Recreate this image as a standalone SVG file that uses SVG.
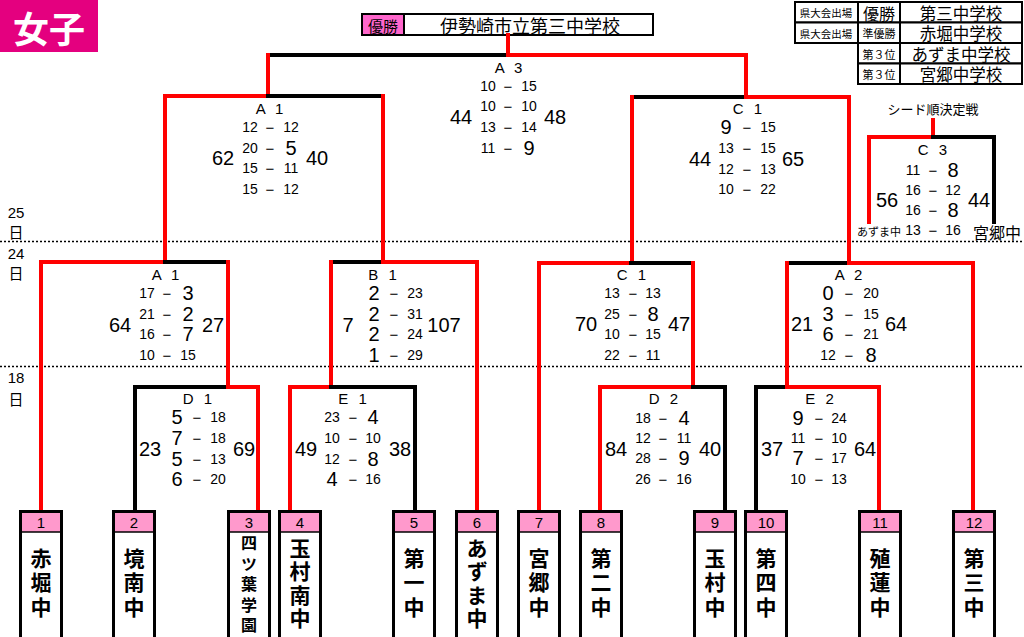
<svg xmlns="http://www.w3.org/2000/svg" xmlns:xlink="http://www.w3.org/1999/xlink" width="1024" height="637" viewBox="0 0 1024 637">
<style>
.r{stroke:#ff0000;stroke-width:4;stroke-linecap:square;fill:none}
.k{stroke:#000;stroke-width:4;stroke-linecap:square;fill:none}
.dot{stroke:#000;stroke-width:1.5;stroke-dasharray:2 2}
text{fill:#000}
.s{font-family:"Liberation Sans Narrow","Liberation Sans",sans-serif;font-size:14px;text-anchor:middle;dominant-baseline:central}
.b{font-size:20px}
.d{font-size:15px}
.tot{font-family:"Liberation Sans Narrow","Liberation Sans",sans-serif;font-size:20px;text-anchor:middle;dominant-baseline:central}
.lbl{font-family:"Liberation Sans",sans-serif;font-size:15px;text-anchor:middle;dominant-baseline:central;letter-spacing:3px}
.jp{font-family:"Noto Sans CJK JP",sans-serif;text-anchor:middle;dominant-baseline:central}
.nm{font-family:"Noto Sans CJK JP",sans-serif;font-weight:bold;font-size:21px;writing-mode:vertical-rl;text-anchor:start;dominant-baseline:central}
.n3{letter-spacing:3.5px}
.n4{letter-spacing:2.3px}
.n5{font-size:16px;letter-spacing:4.5px}
.num{font-family:"Liberation Sans Narrow","Liberation Sans",sans-serif;font-size:15px;text-anchor:middle;dominant-baseline:central}
.cell{fill:#fff;stroke:#000;stroke-width:2}
</style>
<defs>
<g id="frame">
<rect x="1.5" y="511.5" width="41" height="130" fill="#fff" stroke="#000" stroke-width="3"/>
<rect x="3" y="513" width="38" height="19" fill="#ff99cc"/>
<line x1="3" y1="532" x2="41" y2="532" stroke="#000" stroke-width="1.5"/>
</g>
</defs>
<rect width="1024" height="637" fill="#fff"/>

<g id="title">
<rect x="0" y="0" width="98" height="52" fill="#e4007f"/>
<text x="49" y="27" class="jp" font-size="36" font-weight="bold" style="fill:#fff">女子</text>
</g>

<g id="champion">
<rect x="362" y="14" width="42" height="21" fill="#ff66cc" stroke="#000" stroke-width="2"/>
<rect x="404" y="14" width="249" height="21" fill="#fff" stroke="#000" stroke-width="2"/>
<text x="383" y="25" class="jp" font-size="15">優勝</text>
<text x="530" y="25" class="jp" font-size="18">伊勢崎市立第三中学校</text>
</g>

<g id="legend">
<rect class="cell" x="795" y="2" width="63" height="20.5"/>
<rect class="cell" x="858" y="2" width="42" height="20.5"/>
<rect class="cell" x="900" y="2" width="122" height="20.5"/>
<rect class="cell" x="795" y="22.5" width="63" height="20.5"/>
<rect class="cell" x="858" y="22.5" width="42" height="20.5"/>
<rect class="cell" x="900" y="22.5" width="122" height="20.5"/>
<rect class="cell" x="858" y="43" width="42" height="20.5"/>
<rect class="cell" x="900" y="43" width="122" height="20.5"/>
<rect class="cell" x="858" y="63.5" width="42" height="20.5"/>
<rect class="cell" x="900" y="63.5" width="122" height="20.5"/>
<text x="826" y="12.5" class="jp" font-size="10.5">県大会出場</text>
<text x="826" y="33" class="jp" font-size="10.5">県大会出場</text>
<text x="879" y="12.5" class="jp" font-size="16">優勝</text>
<text x="879" y="33" class="jp" font-size="11">準優勝</text>
<text x="879" y="53.5" class="jp" font-size="11">第３位</text>
<text x="879" y="74" class="jp" font-size="11">第３位</text>
<text x="961" y="12.5" class="jp" font-size="16.5">第三中学校</text>
<text x="961" y="33" class="jp" font-size="16.5">赤堀中学校</text>
<text x="961" y="53.5" class="jp" font-size="16.5">あずま中学校</text>
<text x="961" y="74" class="jp" font-size="16.5">宮郷中学校</text>
</g>

<g id="days">
<line class="dot" x1="0" y1="241.5" x2="1024" y2="241.5"/>
<line class="dot" x1="0" y1="366.5" x2="1024" y2="366.5"/>
<text x="16" y="212" class="num" font-size="16">25</text>
<text x="16" y="231" class="jp" font-size="15">日</text>
<text x="16" y="253" class="num" font-size="16">24</text>
<text x="16" y="272" class="jp" font-size="15">日</text>
<text x="16" y="377" class="num" font-size="16">18</text>
<text x="16" y="398" class="jp" font-size="15">日</text>
</g>

<g id="connectors">
<line class="r" x1="508" y1="35" x2="508" y2="55"/>
<line class="k" x1="268" y1="55" x2="508" y2="55"/>
<line class="r" x1="508" y1="55" x2="746" y2="55"/>
<line class="r" x1="268" y1="55" x2="268" y2="96"/>
<line class="r" x1="746" y1="55" x2="746" y2="97"/>
<line class="r" x1="165" y1="96" x2="268" y2="96"/>
<line class="k" x1="268" y1="96" x2="383" y2="96"/>
<line class="r" x1="165" y1="96" x2="165" y2="262"/>
<line class="r" x1="383" y1="96" x2="383" y2="262"/>
<line class="k" x1="632" y1="97" x2="746" y2="97"/>
<line class="r" x1="746" y1="97" x2="849" y2="97"/>
<line class="r" x1="632" y1="97" x2="632" y2="263"/>
<line class="r" x1="849" y1="97" x2="849" y2="263"/>
<line class="r" x1="41" y1="262" x2="165" y2="262"/>
<line class="k" x1="165" y1="262" x2="228" y2="262"/>
<line class="r" x1="41" y1="262" x2="41" y2="510"/>
<line class="r" x1="228" y1="262" x2="228" y2="387"/>
<line class="k" x1="331" y1="262" x2="383" y2="262"/>
<line class="r" x1="383" y1="262" x2="477" y2="262"/>
<line class="r" x1="331" y1="262" x2="331" y2="387"/>
<line class="r" x1="477" y1="262" x2="477" y2="510"/>
<line class="r" x1="539" y1="263" x2="631" y2="263"/>
<line class="k" x1="631" y1="263" x2="693" y2="263"/>
<line class="r" x1="539" y1="263" x2="539" y2="510"/>
<line class="r" x1="693" y1="263" x2="693" y2="387"/>
<line class="k" x1="787" y1="263" x2="849" y2="263"/>
<line class="r" x1="849" y1="263" x2="973" y2="263"/>
<line class="r" x1="787" y1="263" x2="787" y2="387"/>
<line class="r" x1="973" y1="263" x2="973" y2="510"/>
<line class="k" x1="135" y1="387" x2="228" y2="387"/>
<line class="r" x1="228" y1="387" x2="258" y2="387"/>
<line class="k" x1="135" y1="387" x2="135" y2="510"/>
<line class="r" x1="258" y1="387" x2="258" y2="510"/>
<line class="r" x1="290" y1="387" x2="331" y2="387"/>
<line class="k" x1="331" y1="387" x2="415" y2="387"/>
<line class="r" x1="290" y1="387" x2="290" y2="510"/>
<line class="k" x1="415" y1="387" x2="415" y2="510"/>
<line class="r" x1="600" y1="387" x2="693" y2="387"/>
<line class="k" x1="693" y1="387" x2="725" y2="387"/>
<line class="r" x1="600" y1="387" x2="600" y2="510"/>
<line class="k" x1="725" y1="387" x2="725" y2="510"/>
<line class="k" x1="756" y1="387" x2="787" y2="387"/>
<line class="r" x1="787" y1="387" x2="879" y2="387"/>
<line class="k" x1="756" y1="387" x2="756" y2="510"/>
<line class="r" x1="879" y1="387" x2="879" y2="510"/>
<line class="r" x1="933" y1="120" x2="933" y2="137"/>
<line class="r" x1="869" y1="137" x2="933" y2="137"/>
<line class="k" x1="933" y1="137" x2="994" y2="137"/>
<line class="r" x1="869" y1="137" x2="869" y2="222"/>
<line class="k" x1="994" y1="137" x2="994" y2="222"/>
</g>

<g id="m-A3">
<text class="lbl" x="510" y="67">A 3</text>
<text class="s" x="488" y="86">10</text><text class="s d" x="508" y="86">−</text><text class="s" x="529" y="86">15</text>
<text class="s" x="488" y="106">10</text><text class="s d" x="508" y="106">−</text><text class="s" x="529" y="106">10</text>
<text class="s" x="488" y="127">13</text><text class="s d" x="508" y="127">−</text><text class="s" x="529" y="127">14</text>
<text class="s" x="488" y="148">11</text><text class="s d" x="508" y="148">−</text><text class="s b" x="529" y="148">9</text>
<text class="tot" x="461" y="117">44</text><text class="tot" x="555" y="117">48</text>
</g>

<g id="m-A1-top">
<text class="lbl" x="271" y="108">A 1</text>
<text class="s" x="250" y="127">12</text><text class="s d" x="270" y="127">−</text><text class="s" x="291" y="127">12</text>
<text class="s" x="250" y="148">20</text><text class="s d" x="270" y="148">−</text><text class="s b" x="291" y="148">5</text>
<text class="s" x="250" y="168">15</text><text class="s d" x="270" y="168">−</text><text class="s" x="291" y="168">11</text>
<text class="s" x="250" y="189">15</text><text class="s d" x="270" y="189">−</text><text class="s" x="291" y="189">12</text>
<text class="tot" x="223" y="158">62</text><text class="tot" x="317" y="158">40</text>
</g>

<g id="m-C1-top">
<text class="lbl" x="749" y="108">C 1</text>
<text class="s b" x="726" y="127">9</text><text class="s d" x="747" y="127">−</text><text class="s" x="768" y="127">15</text>
<text class="s" x="726" y="148">13</text><text class="s d" x="747" y="148">−</text><text class="s" x="768" y="148">15</text>
<text class="s" x="726" y="169">12</text><text class="s d" x="747" y="169">−</text><text class="s" x="768" y="169">13</text>
<text class="s" x="726" y="189">10</text><text class="s d" x="747" y="189">−</text><text class="s" x="768" y="189">22</text>
<text class="tot" x="700" y="159">44</text><text class="tot" x="793" y="159">65</text>
</g>

<g id="m-C3">
<text class="jp" x="933" y="108" font-size="13">シード順決定戦</text>
<text class="lbl" x="934" y="149">C 3</text>
<text class="s" x="913" y="170">11</text><text class="s d" x="933" y="170">−</text><text class="s b" x="953" y="170">8</text>
<text class="s" x="913" y="190">16</text><text class="s d" x="933" y="190">−</text><text class="s" x="953" y="190">12</text>
<text class="s" x="913" y="210">16</text><text class="s d" x="933" y="210">−</text><text class="s b" x="953" y="210">8</text>
<text class="s" x="913" y="230">13</text><text class="s d" x="933" y="230">−</text><text class="s" x="953" y="230">16</text>
<text class="tot" x="887" y="200">56</text><text class="tot" x="979" y="200">44</text>
<text class="jp" x="879" y="231" font-size="11">あずま中</text>
<text class="jp" x="997" y="232" font-size="16">宮郷中</text>
</g>

<g id="m-A1-mid">
<text class="lbl" x="167" y="274">A 1</text>
<text class="s" x="147" y="293">17</text><text class="s d" x="167" y="293">−</text><text class="s b" x="188" y="293">3</text>
<text class="s" x="147" y="314">21</text><text class="s d" x="167" y="314">−</text><text class="s b" x="188" y="314">2</text>
<text class="s" x="147" y="334">16</text><text class="s d" x="167" y="334">−</text><text class="s b" x="188" y="334">7</text>
<text class="s" x="147" y="355">10</text><text class="s d" x="167" y="355">−</text><text class="s" x="188" y="355">15</text>
<text class="tot" x="120" y="325">64</text><text class="tot" x="213" y="325">27</text>
</g>

<g id="m-B1">
<text class="lbl" x="384" y="274">B 1</text>
<text class="s b" x="374" y="293">2</text><text class="s d" x="394" y="293">−</text><text class="s" x="415" y="293">23</text>
<text class="s b" x="374" y="314">2</text><text class="s d" x="394" y="314">−</text><text class="s" x="415" y="314">31</text>
<text class="s b" x="374" y="334">2</text><text class="s d" x="394" y="334">−</text><text class="s" x="415" y="334">24</text>
<text class="s b" x="374" y="355">1</text><text class="s d" x="394" y="355">−</text><text class="s" x="415" y="355">29</text>
<text class="tot" x="348" y="325">7</text><text class="tot" x="444" y="325">107</text>
</g>

<g id="m-C1-mid">
<text class="lbl" x="633" y="274">C 1</text>
<text class="s" x="612" y="293">13</text><text class="s d" x="633" y="293">−</text><text class="s" x="653" y="293">13</text>
<text class="s" x="612" y="314">25</text><text class="s d" x="633" y="314">−</text><text class="s b" x="653" y="314">8</text>
<text class="s" x="612" y="334">10</text><text class="s d" x="633" y="334">−</text><text class="s" x="653" y="334">15</text>
<text class="s" x="612" y="355">22</text><text class="s d" x="633" y="355">−</text><text class="s" x="653" y="355">11</text>
<text class="tot" x="586" y="324">70</text><text class="tot" x="679" y="324">47</text>
</g>

<g id="m-A2">
<text class="lbl" x="850" y="274">A 2</text>
<text class="s b" x="828" y="293">0</text><text class="s d" x="849" y="293">−</text><text class="s" x="871" y="293">20</text>
<text class="s b" x="828" y="314">3</text><text class="s d" x="849" y="314">−</text><text class="s" x="871" y="314">15</text>
<text class="s b" x="828" y="334">6</text><text class="s d" x="849" y="334">−</text><text class="s" x="871" y="334">21</text>
<text class="s" x="828" y="355">12</text><text class="s d" x="849" y="355">−</text><text class="s b" x="871" y="355">8</text>
<text class="tot" x="802" y="324">21</text><text class="tot" x="896" y="324">64</text>
</g>

<g id="m-D1">
<text class="lbl" x="199" y="398">D 1</text>
<text class="s b" x="177" y="417">5</text><text class="s d" x="197" y="417">−</text><text class="s" x="218" y="417">18</text>
<text class="s b" x="177" y="438">7</text><text class="s d" x="197" y="438">−</text><text class="s" x="218" y="438">18</text>
<text class="s b" x="177" y="459">5</text><text class="s d" x="197" y="459">−</text><text class="s" x="218" y="459">13</text>
<text class="s b" x="177" y="479">6</text><text class="s d" x="197" y="479">−</text><text class="s" x="218" y="479">20</text>
<text class="tot" x="150" y="449">23</text><text class="tot" x="244" y="449">69</text>
</g>

<g id="m-E1">
<text class="lbl" x="354" y="398">E 1</text>
<text class="s" x="332" y="417">23</text><text class="s d" x="353" y="417">−</text><text class="s b" x="373" y="417">4</text>
<text class="s" x="332" y="438">10</text><text class="s d" x="353" y="438">−</text><text class="s" x="373" y="438">10</text>
<text class="s" x="332" y="459">12</text><text class="s d" x="353" y="459">−</text><text class="s b" x="373" y="459">8</text>
<text class="s b" x="332" y="479">4</text><text class="s d" x="353" y="479">−</text><text class="s" x="373" y="479">16</text>
<text class="tot" x="306" y="449">49</text><text class="tot" x="400" y="449">38</text>
</g>

<g id="m-D2">
<text class="lbl" x="665" y="398">D 2</text>
<text class="s" x="643" y="418">18</text><text class="s d" x="663" y="418">−</text><text class="s b" x="684" y="418">4</text>
<text class="s" x="643" y="438">12</text><text class="s d" x="663" y="438">−</text><text class="s" x="684" y="438">11</text>
<text class="s" x="643" y="458">28</text><text class="s d" x="663" y="458">−</text><text class="s b" x="684" y="458">9</text>
<text class="s" x="643" y="479">26</text><text class="s d" x="663" y="479">−</text><text class="s" x="684" y="479">16</text>
<text class="tot" x="616" y="449">84</text><text class="tot" x="710" y="449">40</text>
</g>

<g id="m-E2">
<text class="lbl" x="821" y="398">E 2</text>
<text class="s b" x="798" y="418">9</text><text class="s d" x="819" y="418">−</text><text class="s" x="839" y="418">24</text>
<text class="s" x="798" y="438">11</text><text class="s d" x="819" y="438">−</text><text class="s" x="839" y="438">10</text>
<text class="s b" x="798" y="458">7</text><text class="s d" x="819" y="458">−</text><text class="s" x="839" y="458">17</text>
<text class="s" x="798" y="479">10</text><text class="s d" x="819" y="479">−</text><text class="s" x="839" y="479">13</text>
<text class="tot" x="772" y="449">37</text><text class="tot" x="865" y="449">64</text>
</g>

<g id="team1"><use xlink:href="#frame" x="19"/><text class="num" x="41" y="522">1</text><text class="nm n3" x="41" y="547.5">赤堀中</text></g>
<g id="team2"><use xlink:href="#frame" x="112"/><text class="num" x="134" y="522">2</text><text class="nm n3" x="134" y="547.5">境南中</text></g>
<g id="team3"><use xlink:href="#frame" x="227"/><text class="num" x="249" y="522">3</text><text class="nm n5" x="249" y="535">四ツ葉学園</text></g>
<g id="team4"><use xlink:href="#frame" x="278"/><text class="num" x="300" y="522">4</text><text class="nm n4" x="300" y="537.5">玉村南中</text></g>
<g id="team5"><use xlink:href="#frame" x="392"/><text class="num" x="414" y="522">5</text><text class="nm n3" x="414" y="547.5">第一中</text></g>
<g id="team6"><use xlink:href="#frame" x="455"/><text class="num" x="477" y="522">6</text><text class="nm n4" x="477" y="537.5">あずま中</text></g>
<g id="team7"><use xlink:href="#frame" x="517"/><text class="num" x="539" y="522">7</text><text class="nm n3" x="539" y="547.5">宮郷中</text></g>
<g id="team8"><use xlink:href="#frame" x="579"/><text class="num" x="601" y="522">8</text><text class="nm n3" x="601" y="547.5">第二中</text></g>
<g id="team9"><use xlink:href="#frame" x="693"/><text class="num" x="715" y="522">9</text><text class="nm n3" x="715" y="547.5">玉村中</text></g>
<g id="team10"><use xlink:href="#frame" x="744"/><text class="num" x="766" y="522">10</text><text class="nm n3" x="766" y="547.5">第四中</text></g>
<g id="team11"><use xlink:href="#frame" x="858"/><text class="num" x="880" y="522">11</text><text class="nm n3" x="880" y="547.5">殖蓮中</text></g>
<g id="team12"><use xlink:href="#frame" x="952"/><text class="num" x="974" y="522">12</text><text class="nm n3" x="974" y="547.5">第三中</text></g>
</svg>
